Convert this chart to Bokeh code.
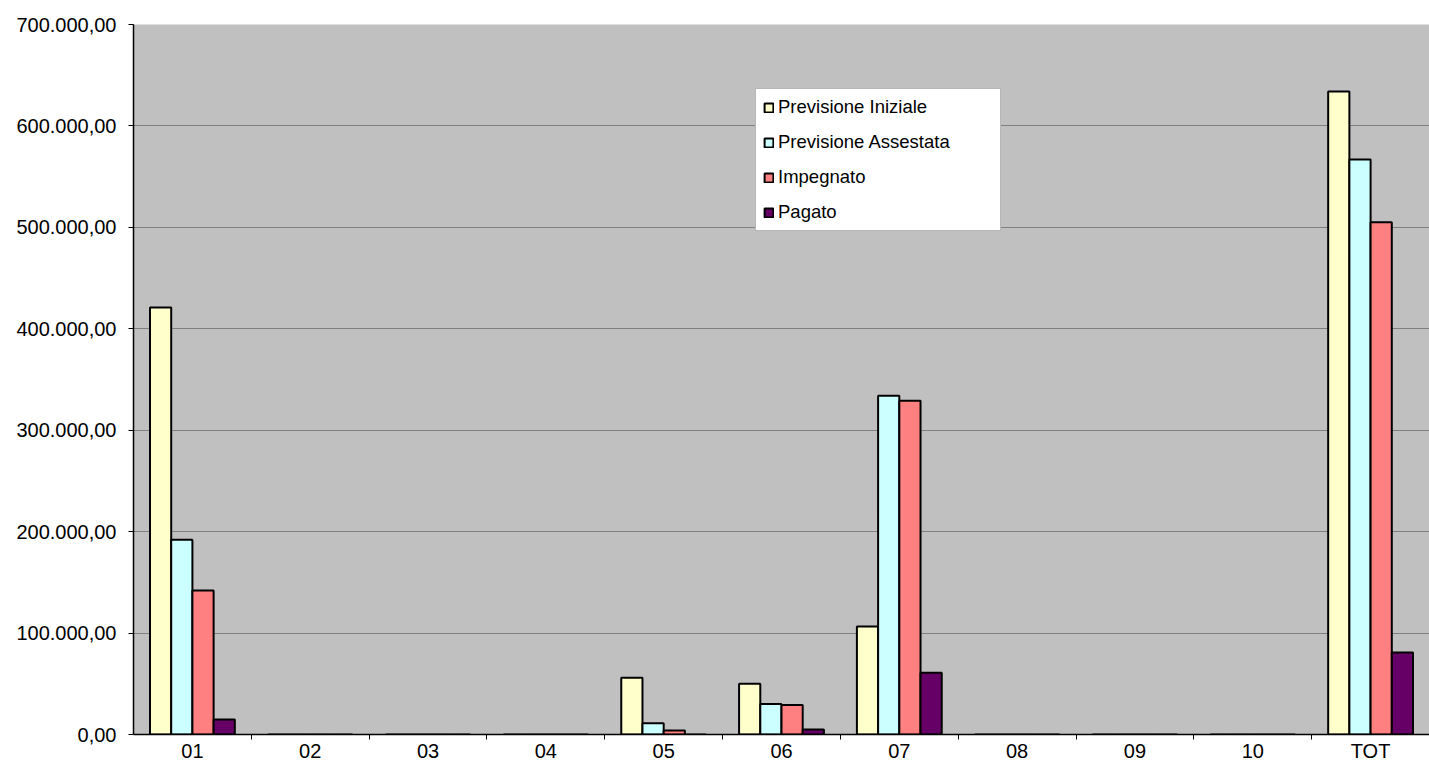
from bokeh.plotting import figure
from bokeh.models import (Range1d, LinearAxis, FixedTicker, Legend, LegendItem, ColumnDataSource)
from bokeh.transform import dodge
from bokeh.embed import file_html
from bokeh.resources import INLINE

categories = ["01", "02", "03", "04", "05", "06", "07", "08", "09", "10", "TOT"]
previsione_iniziale = [421000, 0, 0, 0, 56000, 50000, 106500, 0, 0, 0, 634000]
previsione_assestata = [192000, 0, 0, 0, 11000, 30000, 334000, 0, 0, 0, 567000]
impegnato = [142000, 0, 0, 0, 4000, 29000, 329000, 0, 0, 0, 505000]
pagato = [14800, 0, 0, 0, 0, 5000, 61000, 0, 0, 0, 80800]

series_keys = ["pi", "pa", "imp", "pag"]
series_names = ["Previsione Iniziale", "Previsione Assestata", "Impegnato", "Pagato"]
series_colors = ["#FFFFCC", "#CCFFFF", "#FF8080", "#660066"]

y_ticks = [0, 100000, 200000, 300000, 400000, 500000, 600000, 700000]
y_tick_labels = ["0,00", "100.000,00", "200.000,00", "300.000,00",
                 "400.000,00", "500.000,00", "600.000,00", "700.000,00"]

FONT = "Liberation Sans"
AX_FS = "20px"
LEG_FS = "18.5px"

n = len(categories)
idx = list(range(n))  # category slot index; each slot is one unit wide
src = ColumnDataSource(data=dict(idx=idx, cat=categories, pi=previsione_iniziale,
                                 pa=previsione_assestata, imp=impegnato, pag=pagato))

p = figure(x_range=Range1d(0, n), y_range=Range1d(0, 700000),
           width=1429, height=767, output_backend="svg", toolbar_location=None,
           x_axis_location=None, min_border_left=133, min_border_top=24,
           min_border_right=0, min_border_bottom=33)
p.background_fill_color = "#C0C0C0"
p.border_fill_color = "white"
p.outline_line_color = None

# y axis
p.yaxis.ticker = FixedTicker(ticks=y_ticks, minor_ticks=[])
p.yaxis.major_label_overrides = {t: l for t, l in zip(y_ticks, y_tick_labels)}
p.yaxis.major_label_text_font = FONT
p.yaxis.major_label_text_font_size = AX_FS
p.yaxis.major_label_text_color = "black"
p.yaxis.major_label_standoff = 12
p.yaxis.major_tick_in = 0
p.yaxis.major_tick_out = 5
p.yaxis.major_tick_line_color = "black"
p.yaxis.minor_tick_line_color = None
p.yaxis.axis_line_color = "black"
p.yaxis.axis_line_width = 1.5

for g in p.grid:
    if g.dimension == 0:
        g.visible = False
    else:
        g.ticker = FixedTicker(ticks=y_ticks, minor_ticks=[])
        g.grid_line_color = "#808080"
        g.grid_line_width = 1.2

# x axis: separator ticks between slots
sep_ticks = list(range(1, n))
sep_axis = LinearAxis(ticker=FixedTicker(ticks=sep_ticks, minor_ticks=[]),
                      major_label_overrides={t: "" for t in sep_ticks},
                      major_label_text_font_size="0px", major_label_standoff=0,
                      major_tick_in=0, major_tick_out=5, major_tick_line_color="black",
                      minor_tick_line_color=None, axis_line_color="black", axis_line_width=1.5)
p.add_layout(sep_axis, "below")
# x axis: category labels at slot centres
centres = [i + 0.5 for i in idx]
cat_axis = LinearAxis(ticker=FixedTicker(ticks=centres, minor_ticks=[]),
                      major_label_overrides={c: lab for c, lab in zip(centres, categories)},
                      axis_line_color=None, major_tick_line_color=None,
                      major_tick_in=0, major_tick_out=0,
                      minor_tick_line_color=None, major_label_standoff=0,
                      major_label_text_font=FONT, major_label_text_font_size=AX_FS,
                      major_label_text_color="black")
p.add_layout(cat_axis, "below")

offsets = [0.5 - 0.27, 0.5 - 0.09, 0.5 + 0.09, 0.5 + 0.27]
items = []
for key, name, color, off in zip(series_keys, series_names, series_colors, offsets):
    r = p.vbar(x=dodge("idx", off), top=key, width=0.18, source=src,
               fill_color=color, line_color="black", line_width=2)
    items.append(LegendItem(label=name, renderers=[r]))

legend = Legend(items=items, location=(622, 503), orientation="vertical",
                label_text_font=FONT, label_text_font_size=LEG_FS, label_text_color="black",
                glyph_width=11, glyph_height=11, label_standoff=4, label_height=22,
                label_width=215, spacing=13, padding=7, margin=0,
                border_line_color="#707070", border_line_width=1,
                background_fill_color="white", background_fill_alpha=1)
p.add_layout(legend, "center")

open("out.html", "w").write(file_html(p, INLINE))
